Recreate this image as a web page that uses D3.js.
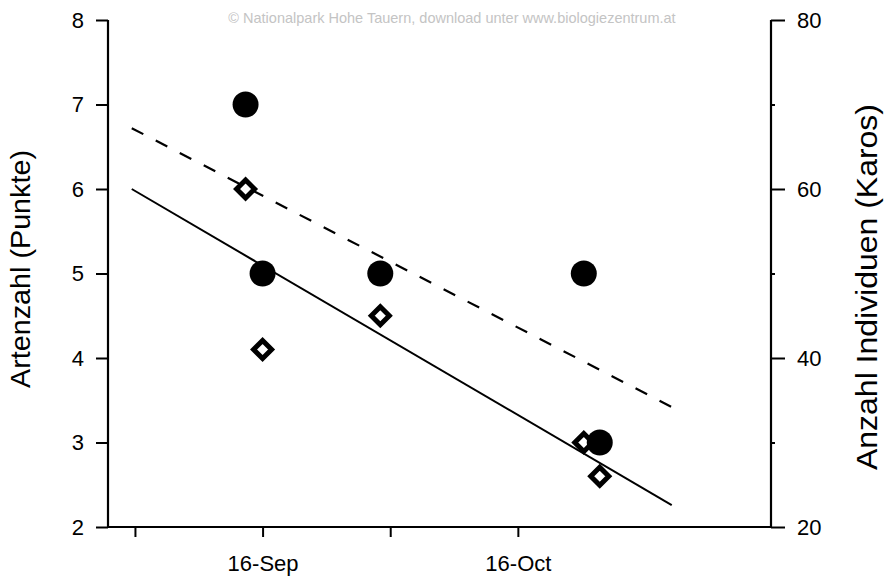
<!DOCTYPE html>
<html>
<head>
<meta charset="utf-8">
<script src="https://cdn.jsdelivr.net/npm/d3@7"></script>
<style>
body{margin:0;background:#fff}
text{font-family:"Liberation Sans",Arial,sans-serif}
</style>
</head>
<body>
<script>
// sampling dates
var dates = ["2000-09-14 00:00","2000-09-16 00:00","2000-09-29 20:00","2000-10-23 18:00","2000-10-25 15:00"]
// Artenzahl (Punkte) - left axis
var punkte = [7,5,5,5,3]
// Anzahl Individuen (Karos) - right axis
var karos = [60,41,45,30,26]
// trend lines, start/end
var lineDates = ["2000-08-31 15:00","2000-11-03 02:00"]
var punkteLine = [6.72,3.42]
var karosLine = [60,22.6]

var xTicks = ["2000-09-01 00:00","2000-09-16 00:00","2000-10-01 00:00","2000-10-16 00:00"]
var leftTicks = [2,3,4,5,6,7,8]
var rightTicks = [20,40,60,80]
var rightMinor = [30,50,70]

var parse = d3.timeParse("%Y-%m-%d %H:%M")
var fmt = d3.timeFormat("%-d-%b")

var w = 888, h = 579
var svg = d3.select("body").append("svg").attr("width", w).attr("height", h)

var x = d3.scaleTime()
	.domain([parse("2000-08-28 20:00"), parse("2000-11-14 18:00")])
	.range([108, 771])
var yL = d3.scaleLinear().domain([2,8]).range([527,20])
var yR = d3.scaleLinear().domain([20,80]).range([527,20])

// watermark
svg.append("text").attr("x", 452).attr("y", 23).attr("text-anchor","middle")
	.attr("font-size", 14.5).attr("fill", "#c4c4c4")
	.text("\u00a9 Nationalpark Hohe Tauern, download unter www.biologiezentrum.at")

// axes
svg.append("g").attr("transform","translate(108,0)")
	.call(d3.axisLeft(yL).tickValues(leftTicks).tickSize(12).tickPadding(12).tickFormat(d3.format("d")))
svg.append("g").attr("transform","translate(771,0)")
	.call(d3.axisRight(yR).tickValues(rightTicks).tickSize(14).tickPadding(12).tickFormat(d3.format("d")))
svg.append("g").attr("transform","translate(771,0)")
	.call(d3.axisRight(yR).tickValues(rightMinor).tickSize(4).tickFormat(""))
svg.append("g").attr("transform","translate(0,527)")
	.call(d3.axisBottom(x).tickValues(xTicks.map(parse)).tickSize(10).tickPadding(18)
		.tickFormat(function(d){ var s = fmt(d); return s.indexOf("16-")==0 ? s : "" }))

svg.selectAll(".domain").remove()
svg.selectAll(".tick line").attr("stroke","#000").attr("stroke-width",2)
svg.selectAll(".tick text").attr("font-size",22).attr("fill","#000")
	.attr("font-family","'Liberation Sans',Arial,sans-serif")

// axis lines
svg.append("line").attr("x1",108).attr("x2",108).attr("y1",yL(8)).attr("y2",yL(2)+1).attr("stroke","#000").attr("stroke-width",2.2)
svg.append("line").attr("x1",771).attr("x2",771).attr("y1",yR(80)).attr("y2",yR(20)+1).attr("stroke","#000").attr("stroke-width",2.2)
svg.append("line").attr("x1",x.range()[0]).attr("x2",x.range()[1]).attr("y1",527).attr("y2",527).attr("stroke","#000").attr("stroke-width",2.2)

// axis titles
svg.append("text").attr("transform","translate(30,269) rotate(-90)").attr("text-anchor","middle")
	.attr("font-size",28).attr("textLength",238).attr("lengthAdjust","spacingAndGlyphs").text("Artenzahl (Punkte)")
svg.append("text").attr("transform","translate(877,287) rotate(-90)").attr("text-anchor","middle")
	.attr("font-size",29).attr("textLength",366).attr("lengthAdjust","spacingAndGlyphs").text("Anzahl Individuen (Karos)")

// trend lines
var ld = lineDates.map(parse)
svg.append("line").attr("x1",x(ld[0])).attr("x2",x(ld[1]))
	.attr("y1",yR(karosLine[0])).attr("y2",yR(karosLine[1]))
	.attr("stroke","#000").attr("stroke-width",2)
svg.append("line").attr("x1",x(ld[0])).attr("x2",x(ld[1]))
	.attr("y1",yL(punkteLine[0])).attr("y2",yL(punkteLine[1]))
	.attr("stroke","#000").attr("stroke-width",2.2).attr("stroke-dasharray","13,14")

// diamonds (Karos)
var dsz = 9
svg.selectAll("path.karo").data(karos).enter().append("path").attr("class","karo")
	.attr("d", function(d,i){
		var cx = x(parse(dates[i])), cy = yR(d)
		return "M"+cx+","+(cy-dsz)+"L"+(cx+dsz)+","+cy+"L"+cx+","+(cy+dsz)+"L"+(cx-dsz)+","+cy+"Z"
	})
	.attr("fill","#fff").attr("stroke","#000").attr("stroke-width",5)

// circles (Punkte)
svg.selectAll("circle.punkt").data(punkte).enter().append("circle").attr("class","punkt")
	.attr("cx", function(d,i){return x(parse(dates[i]))})
	.attr("cy", function(d){return yL(d)})
	.attr("r", 13).attr("fill","#000")
</script>
</body>
</html>
